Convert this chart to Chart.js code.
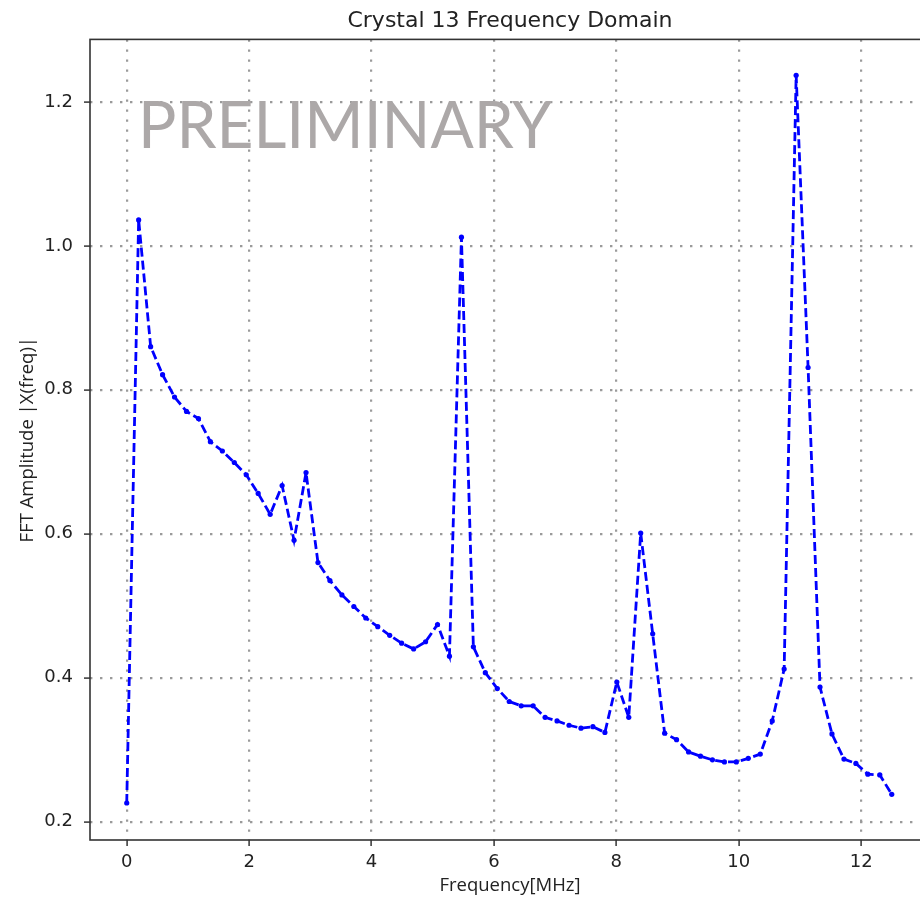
<!DOCTYPE html>
<html>
<head>
<meta charset="utf-8">
<script src="https://cdn.jsdelivr.net/npm/chart.js@4/dist/chart.umd.min.js"></script>
<style>
  html, body { margin: 0; padding: 0; background: #ffffff; overflow: hidden; }
  #wrap { width: 920px; height: 899px; overflow: hidden; position: relative; }
  canvas { display: block; }
</style>
</head>
<body>
<div id="wrap"><canvas id="c" width="940" height="899"></canvas></div>
<script>
const TITLE = 'Crystal 13 Frequency Domain';
const X_LABEL = 'Frequency[MHz]';
const Y_LABEL = 'FFT Amplitude |X(freq)|';
const WATERMARK = 'PRELIMINARY';

const frequencyMHz = [
  0.000, 0.195, 0.391, 0.586, 0.781, 0.977, 1.172, 1.367, 1.563, 1.758,
  1.953, 2.148, 2.344, 2.539, 2.734, 2.930, 3.125, 3.320, 3.516, 3.711,
  3.906, 4.102, 4.297, 4.492, 4.688, 4.883, 5.078, 5.273, 5.469, 5.664,
  5.859, 6.055, 6.250, 6.445, 6.641, 6.836, 7.031, 7.227, 7.422, 7.617,
  7.813, 8.008, 8.203, 8.398, 8.594, 8.789, 8.984, 9.180, 9.375, 9.570,
  9.766, 9.961, 10.156, 10.352, 10.547, 10.742, 10.938, 11.133, 11.328, 11.523,
  11.719, 11.914, 12.109, 12.305, 12.500
];

const fftAmplitude = [
  0.226, 1.036, 0.860, 0.821, 0.790, 0.770, 0.760, 0.728, 0.715, 0.699,
  0.682, 0.656, 0.627, 0.667, 0.591, 0.685, 0.560, 0.535, 0.515, 0.499,
  0.483, 0.471, 0.459, 0.448, 0.440, 0.450, 0.474, 0.430, 1.012, 0.443,
  0.407, 0.385, 0.367, 0.361, 0.361, 0.345, 0.340, 0.334, 0.330, 0.332,
  0.324, 0.394, 0.345, 0.601, 0.461, 0.323, 0.314, 0.297, 0.291, 0.286,
  0.283, 0.283, 0.288, 0.294, 0.340, 0.412, 1.237, 0.831, 0.387, 0.322,
  0.287, 0.281, 0.266, 0.265, 0.238
];

const xTicks = [0, 2, 4, 6, 8, 10, 12];
const yTicks = [0.2, 0.4, 0.6, 0.8, 1.0, 1.2];

const points = frequencyMHz.map((f, i) => ({ x: f, y: fftAmplitude[i] }));

const GRID_COLOR = '#9a9a9a';
const AXIS_COLOR = '#333333';

const framePlugin = {
  id: 'frame',
  afterDraw(chart) {
    const { ctx, chartArea: a } = chart;
    ctx.save();
    ctx.strokeStyle = AXIS_COLOR;
    ctx.lineWidth = 1.6;
    ctx.setLineDash([]);
    ctx.strokeRect(a.left, a.top, a.right - a.left, a.bottom - a.top);
    ctx.restore();
  }
};

const watermarkPlugin = {
  id: 'watermark',
  afterDatasetsDraw(chart) {
    const ctx = chart.ctx;
    ctx.save();
    ctx.font = '400 66px Lato, "Open Sans", sans-serif';
    ctx.fillStyle = 'rgb(172,168,168)';
    ctx.textBaseline = 'alphabetic';
    ctx.textAlign = 'left';
    const w = ctx.measureText(WATERMARK).width;
    const target = 414;
    ctx.translate(138, 148);
    ctx.scale(target / w, 1);
    ctx.fillText(WATERMARK, 0, 0);
    ctx.restore();
  }
};

const gridOpts = {
  color: GRID_COLOR,
  lineWidth: 2.2,
  drawTicks: true,
  tickLength: 6,
  tickColor: AXIS_COLOR,
  tickWidth: 1.5,
  tickBorderDash: []
};

new Chart(document.getElementById('c'), {
  type: 'line',
  data: {
    datasets: [{
      data: points,
      borderColor: '#0000ff',
      backgroundColor: '#0000ff',
      borderWidth: 2.8,
      borderDash: [9, 4],
      tension: 0,
      fill: false,
      pointRadius: 2.6,
      pointBorderWidth: 0,
      pointBackgroundColor: '#0000ff',
      pointHoverRadius: 2.6
    }]
  },
  options: {
    responsive: false,
    animation: false,
    devicePixelRatio: 1,
    layout: { padding: { left: 0, right: 10, top: 0, bottom: 0 } },
    plugins: {
      legend: { display: false },
      tooltip: { enabled: false },
      title: {
        display: true,
        text: TITLE,
        fullSize: false,
        color: '#222222',
        font: { family: '"DejaVu Sans", sans-serif', size: 22, weight: 'normal' },
        padding: { top: 8, bottom: 5 }
      }
    },
    scales: {
      x: {
        type: 'linear',
        min: -0.6,
        max: 13.125,
        afterFit(scale) { scale.height = 59; },
        afterBuildTicks(scale) { scale.ticks = xTicks.map(v => ({ value: v })); },
        border: { display: false, dash: [2.4, 7.6] },
        grid: gridOpts,
        ticks: {
          color: '#222222',
          font: { family: '"DejaVu Sans", sans-serif', size: 18 },
          padding: 6,
          maxRotation: 0,
          autoSkip: false,
          callback: (v) => String(Math.round(v))
        },
        title: {
          display: true,
          text: X_LABEL,
          color: '#222222',
          font: { family: '"Open Sans", sans-serif', size: 18.5 },
          padding: { top: 0, bottom: 2 }
        }
      },
      y: {
        type: 'linear',
        min: 0.1746,
        max: 1.2868,
        afterFit(scale) { scale.width = 90; },
        afterBuildTicks(scale) { scale.ticks = yTicks.map(v => ({ value: v })); },
        border: { display: false, dash: [2.4, 7.6] },
        grid: gridOpts,
        ticks: {
          color: '#222222',
          font: { family: '"DejaVu Sans", sans-serif', size: 18 },
          padding: 11,
          autoSkip: false,
          callback: (v) => Number(v).toFixed(1)
        },
        title: {
          display: true,
          text: Y_LABEL,
          color: '#222222',
          font: { family: '"Open Sans", sans-serif', size: 18.5 },
          padding: { top: 17, bottom: 0 }
        }
      }
    }
  },
  plugins: [watermarkPlugin, framePlugin]
});
</script>
</body>
</html>
